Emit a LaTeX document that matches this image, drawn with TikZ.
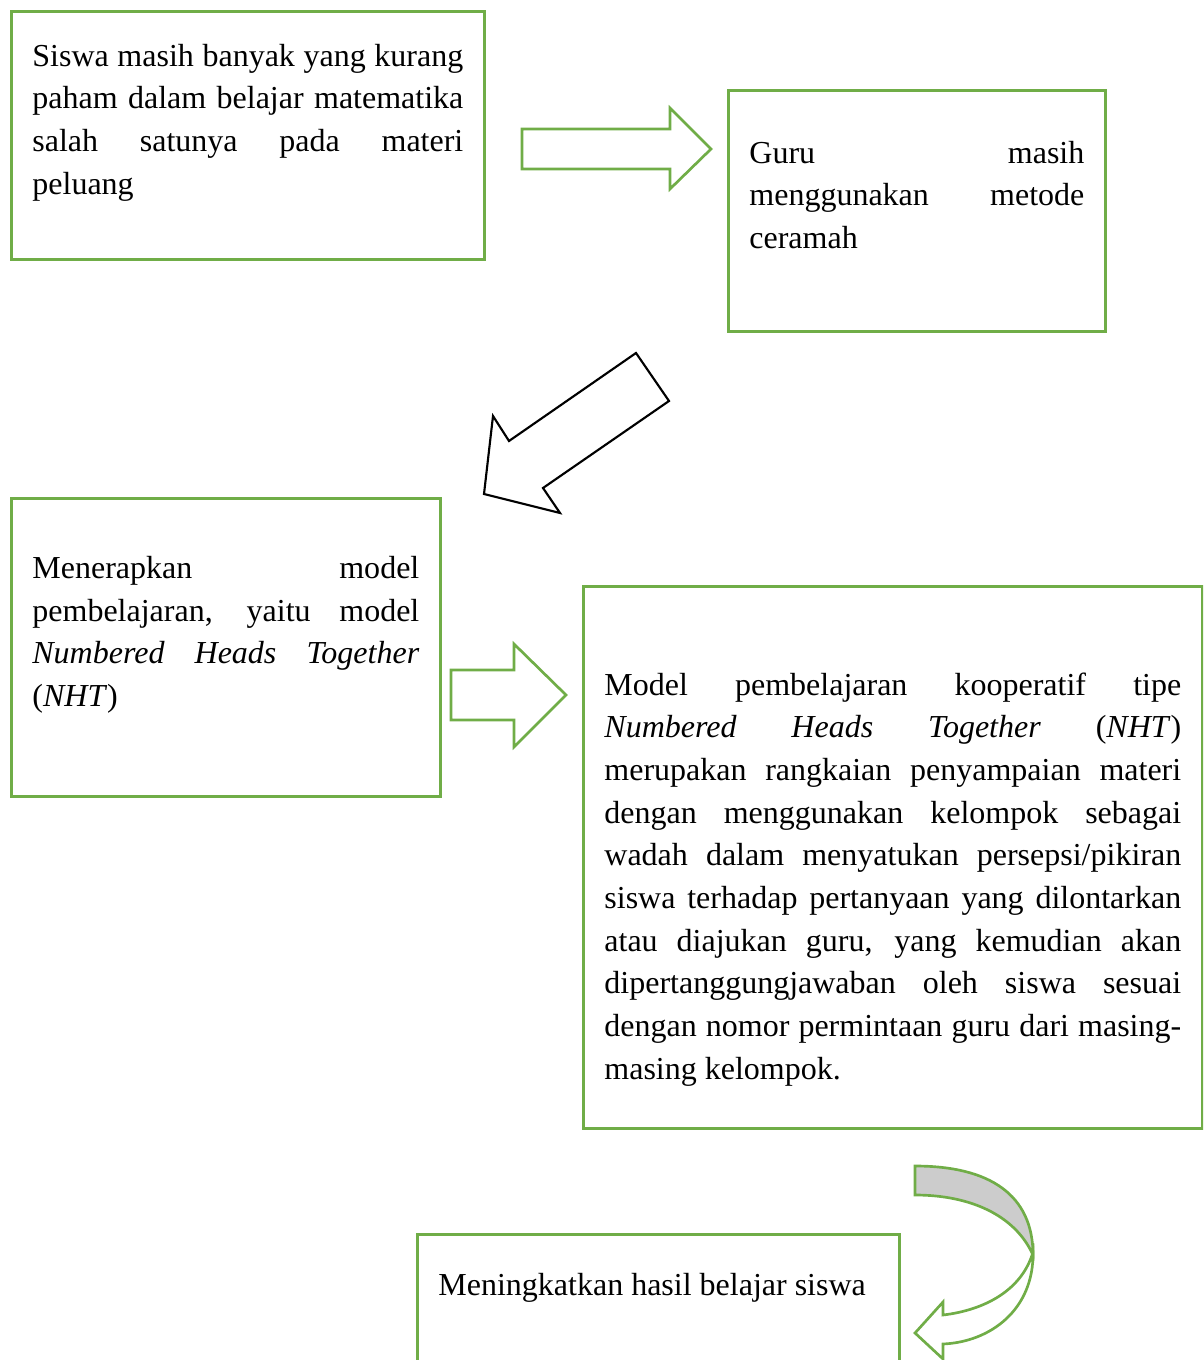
\documentclass[tikz,border=0pt]{standalone}
\usepackage{fontspec}
\setmainfont{Liberation Serif}
\usetikzlibrary{positioning}
\definecolor{hijau}{RGB}{112,173,71}
\hbadness=10000
\tolerance=10000
\hyphenpenalty=10000

\begin{document}
\begin{tikzpicture}[
    x=0.375pt, y=-0.375pt,
    box/.style={rectangle, draw=hijau, line width=1pt, anchor=north west, inner xsep=7.9pt, inner ysep=0pt, align=justify, font=\fontsize{12pt}{16pt}\selectfont},
    blok/.style={draw=hijau, line width=1pt, fill=white},
    blokhitam/.style={draw=black, line width=0.8pt, fill=white}
]
    \useasboundingbox (0,0) rectangle (1203,1360);
    \clip (0,0) rectangle (1203,1360);

    \node[box, text width=161.6pt, text height=20.6pt, text depth=72.4pt] (masalah) at (10,10)
        {Siswa masih banyak yang kurang\linebreak paham dalam belajar matematika\linebreak salah satunya pada materi\linebreak peluang};
    \node[box, text width=125.6pt, text height=27.3pt, text depth=63.1pt] (guru) at (727,89)
        {Guru masih\linebreak menggunakan metode\linebreak ceramah};
    \node[box, text width=145.1pt, text height=30pt, text depth=81.8pt] (model) at (10,497)
        {Menerapkan model\linebreak pembelajaran, yaitu model\linebreak \textit{Numbered Heads Together}\linebreak (\textit{NHT})};
    \node[box, text width=216.3pt, text height=40.8pt, text depth=162.4pt] (nht) at (582,585)
        {Model pembelajaran kooperatif tipe\linebreak \textit{Numbered Heads Together} (\textit{NHT})\linebreak merupakan rangkaian penyampaian materi\linebreak dengan menggunakan kelompok sebagai\linebreak wadah dalam menyatukan persepsi/pikiran\linebreak siswa terhadap pertanyaan yang dilontarkan\linebreak atau diajukan guru, yang kemudian akan\linebreak dipertanggungjawaban oleh siswa sesuai\linebreak dengan nomor permintaan guru dari masing-\linebreak masing kelompok.};
    \node[box, text width=165pt, text height=22.8pt, text depth=56pt] (hasil) at (416,1233)
        {Meningkatkan hasil belajar siswa};

    \draw[blok] (522,129) -- (670,129) -- (670,108) -- (711,149) -- (670,189) -- (670,169) -- (522,169) -- cycle;
    \draw[blokhitam] (636,353) -- (669,401) -- (543,488) -- (560,513) -- (484,494) -- (493,416) -- (509,441) -- cycle;
    \draw[blok] (451,670) -- (514,670) -- (514,644) -- (566,695) -- (514,747) -- (514,720) -- (451,720) -- cycle;

    \draw[blok, fill=gray!40] (915,1166) .. controls (990,1166) and (1033,1195) .. (1033,1255)
        .. controls (1015,1215) and (970,1195) .. (915,1195) -- cycle;
    \draw[blok] (1033,1252) .. controls (1034,1310) and (990,1342) .. (943,1344) -- (943,1359) -- (915,1333)
        -- (943,1302) -- (943,1315) .. controls (985,1310) and (1022,1290) .. (1033,1252) -- cycle;
\end{tikzpicture}
\end{document}
